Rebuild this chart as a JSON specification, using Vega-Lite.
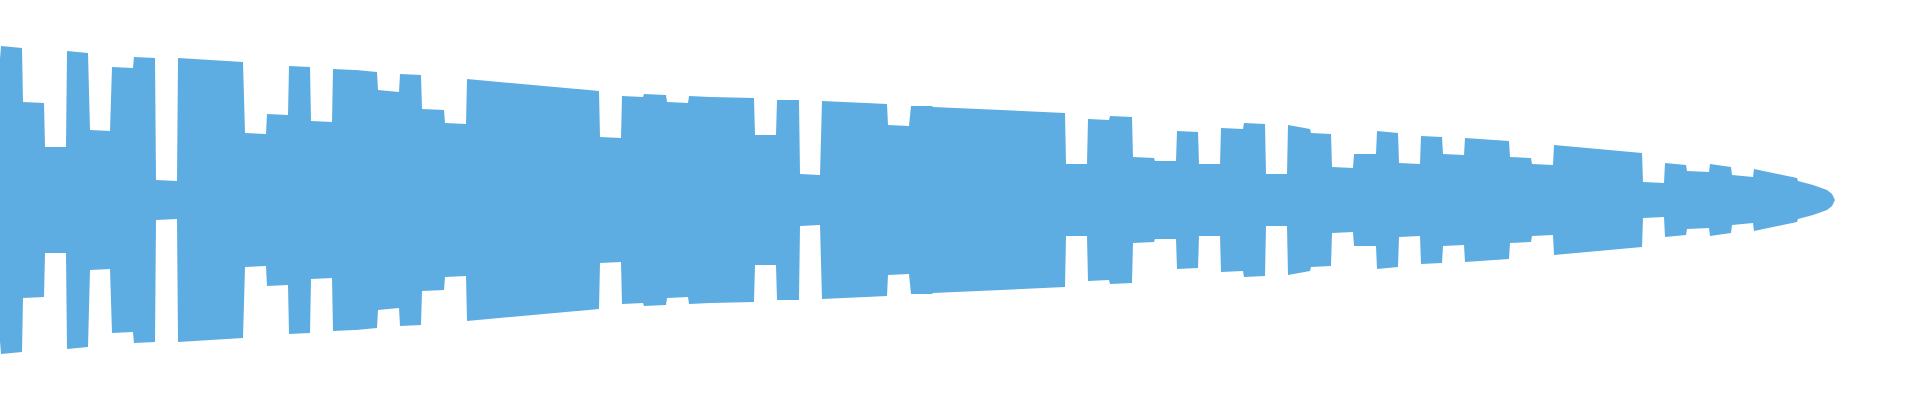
{
  "$schema": "https://vega.github.io/schema/vega-lite/v6.json",
  "width": 1920,
  "height": 400,
  "padding": 0,
  "autosize": {"type": "fit", "contains": "padding"},
  "config": {"view": {"stroke": null}},
  "data": {"values": [
    {"t":0,"a":141},{"t":1,"a":154},{"t":22,"a":152},
    {"t":23,"a":98},{"t":44,"a":97},
    {"t":45,"a":53},{"t":66,"a":53},
    {"t":67,"a":149},{"t":88,"a":147},
    {"t":90,"a":70},{"t":110,"a":69},
    {"t":112,"a":133},{"t":133,"a":132},
    {"t":134,"a":143},{"t":155,"a":142},
    {"t":156,"a":20},{"t":177,"a":19},
    {"t":178,"a":142},{"t":243,"a":138},
    {"t":245,"a":67},{"t":266,"a":66},
    {"t":267,"a":86},{"t":288,"a":85},
    {"t":289,"a":134},{"t":310,"a":133},
    {"t":311,"a":79},{"t":332,"a":78},
    {"t":333,"a":131},{"t":354,"a":130},
    {"t":356,"a":130},{"t":377,"a":128},
    {"t":378,"a":110},{"t":399,"a":108},
    {"t":400,"a":126},{"t":421,"a":125},
    {"t":422,"a":91},{"t":444,"a":90},
    {"t":445,"a":77},{"t":466,"a":76},
    {"t":467,"a":121},{"t":577,"a":111},
    {"t":578,"a":111},{"t":599,"a":109},
    {"t":600,"a":63},{"t":621,"a":62},
    {"t":622,"a":104},{"t":643,"a":103},
    {"t":644,"a":106},{"t":666,"a":105},
    {"t":667,"a":98},{"t":688,"a":97},
    {"t":689,"a":104},{"t":710,"a":103},
    {"t":711,"a":103},{"t":754,"a":102},
    {"t":755,"a":65},{"t":776,"a":65},
    {"t":777,"a":100},{"t":799,"a":100},
    {"t":800,"a":26},{"t":820,"a":25},
    {"t":822,"a":99},{"t":865,"a":97},
    {"t":866,"a":97},{"t":887,"a":96},
    {"t":888,"a":75},{"t":909,"a":74},
    {"t":911,"a":94},{"t":932,"a":94},
    {"t":933,"a":93},{"t":1065,"a":87},
    {"t":1066,"a":36},{"t":1087,"a":36},
    {"t":1088,"a":81},{"t":1109,"a":80},
    {"t":1110,"a":84},{"t":1132,"a":83},
    {"t":1133,"a":43},{"t":1154,"a":42},
    {"t":1155,"a":39},{"t":1176,"a":39},
    {"t":1177,"a":69},{"t":1198,"a":68},
    {"t":1199,"a":36},{"t":1220,"a":36},
    {"t":1221,"a":72},{"t":1243,"a":71},
    {"t":1244,"a":77},{"t":1265,"a":76},
    {"t":1266,"a":26},{"t":1287,"a":26},
    {"t":1288,"a":75},{"t":1310,"a":71},
    {"t":1311,"a":67},{"t":1331,"a":66},
    {"t":1332,"a":33},{"t":1353,"a":32},
    {"t":1354,"a":46},{"t":1376,"a":46},
    {"t":1377,"a":69},{"t":1398,"a":67},
    {"t":1399,"a":37},{"t":1420,"a":36},
    {"t":1421,"a":64},{"t":1442,"a":63},
    {"t":1443,"a":46},{"t":1464,"a":45},
    {"t":1465,"a":62},{"t":1509,"a":59},
    {"t":1510,"a":43},{"t":1531,"a":42},
    {"t":1532,"a":36},{"t":1553,"a":35},
    {"t":1554,"a":55},{"t":1642,"a":47},
    {"t":1643,"a":18},{"t":1664,"a":17},
    {"t":1665,"a":37},{"t":1686,"a":35},
    {"t":1687,"a":29},{"t":1709,"a":28},
    {"t":1710,"a":36},{"t":1731,"a":33},
    {"t":1732,"a":25},{"t":1753,"a":23},
    {"t":1754,"a":31},{"t":1797,"a":22},
    {"t":1798,"a":19},{"t":1813,"a":15},{"t":1827,"a":10},{"t":1832,"a":6},{"t":1835,"a":0}
  ]},
  "mark": {"type": "area", "color": "#5dade2", "interpolate": "linear"},
  "encoding": {
    "x": {"field": "t", "type": "quantitative", "scale": {"domain": [0, 1920], "nice": false, "zero": false}, "axis": null},
    "y": {"field": "a", "type": "quantitative", "stack": "center", "scale": {"domain": [-23, 177], "nice": false, "zero": false}, "axis": null}
  }
}
